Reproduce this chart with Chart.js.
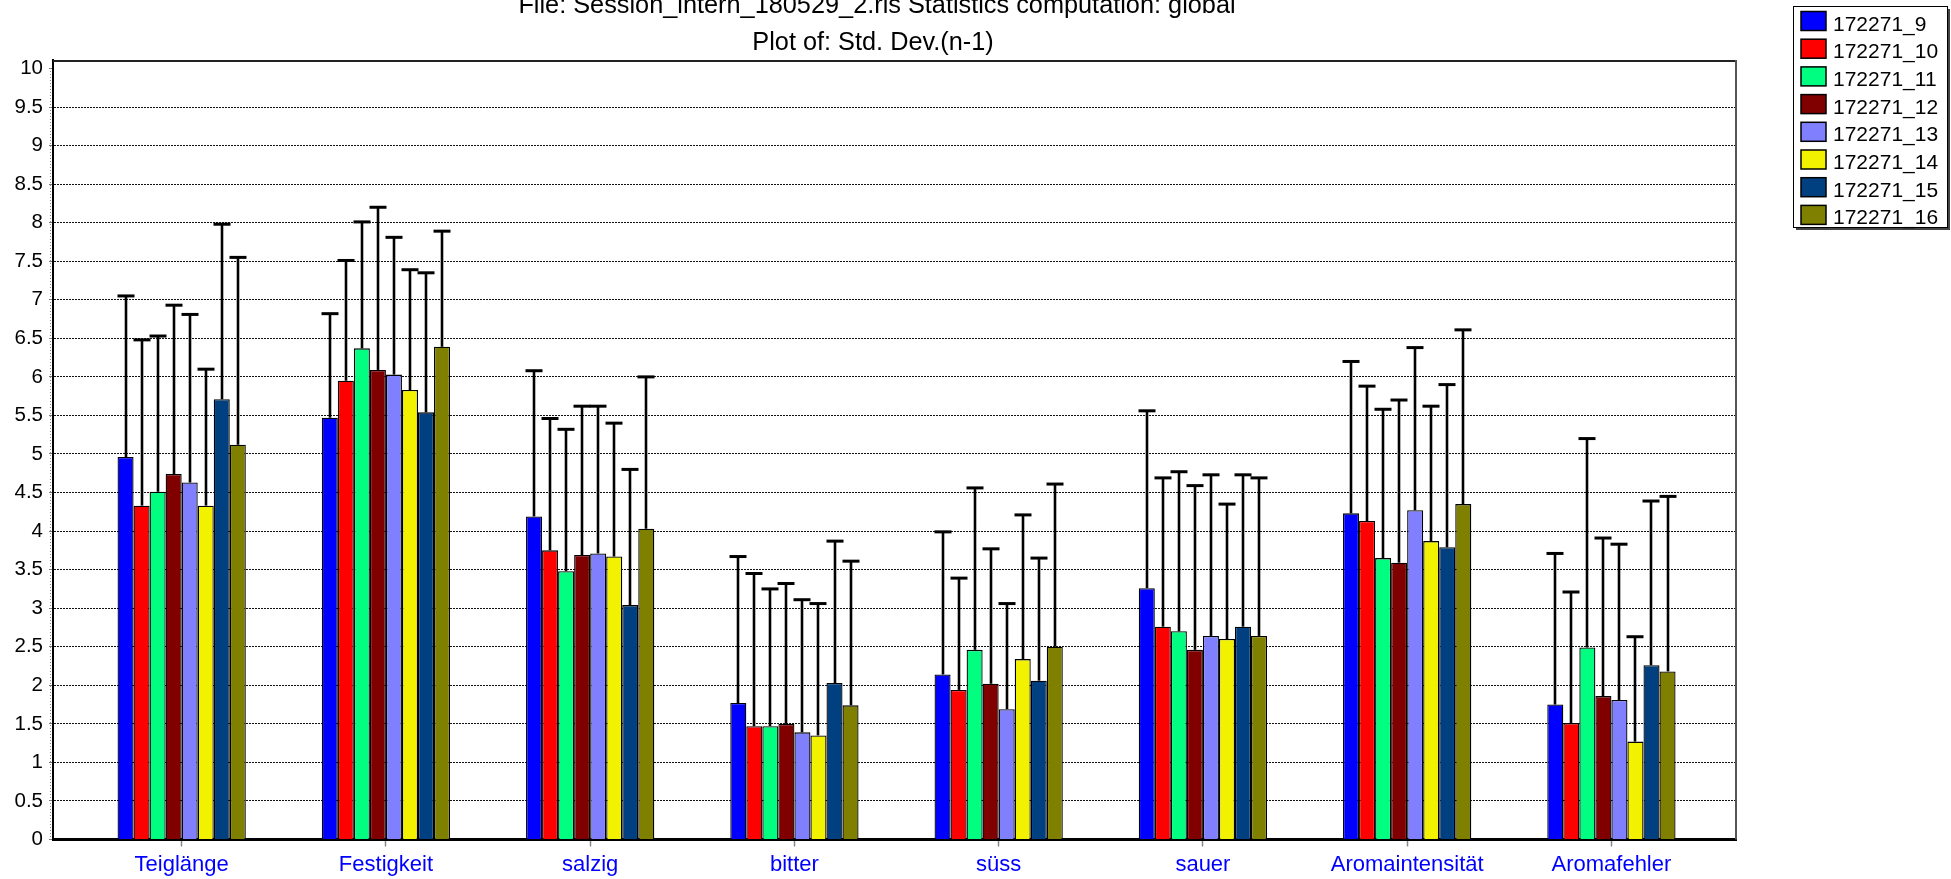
<!DOCTYPE html>
<html>
<head>
<meta charset="utf-8">
<script src="https://cdn.jsdelivr.net/npm/chart.js@4/dist/chart.umd.min.js"></script>
<style>
  html, body { margin: 0; padding: 0; background: #ffffff; overflow: hidden; }
  canvas { display: block; }
</style>
</head>
<body>
<canvas id="chart" width="1951" height="879"></canvas>
<script>
// Attributes on the x axis
const categories = ['Teiglänge', 'Festigkeit', 'salzig', 'bitter', 'süss', 'sauer', 'Aromaintensität', 'Aromafehler'];

// Products (one series each)
const seriesNames = ['172271_9', '172271_10', '172271_11', '172271_12', '172271_13', '172271_14', '172271_15', '172271_16'];

// Std. Dev. (n-1) per product, in attribute order
const sd9  = [4.96, 5.47, 4.19, 1.77, 2.14, 3.26, 4.23, 1.75];
const sd10 = [4.33, 5.95, 3.75, 1.47, 1.94, 2.76, 4.13, 1.51];
const sd11 = [4.51, 6.37, 3.48, 1.47, 2.46, 2.70, 3.65, 2.49];
const sd12 = [4.74, 6.09, 3.69, 1.50, 2.02, 2.46, 3.59, 1.86];
const sd13 = [4.63, 6.03, 3.71, 1.39, 1.69, 2.64, 4.27, 1.81];
const sd14 = [4.33, 5.83, 3.67, 1.35, 2.34, 2.60, 3.87, 1.27];
const sd15 = [5.71, 5.54, 3.04, 2.03, 2.06, 2.76, 3.79, 2.26];
const sd16 = [5.12, 6.39, 4.03, 1.74, 2.50, 2.64, 4.35, 2.18];

// Upper ends of the error whiskers
const hi9  = [7.05, 6.82, 6.08, 3.67, 3.99, 5.56, 6.20, 3.71];
const hi10 = [6.48, 7.51, 5.46, 3.45, 3.39, 4.69, 5.88, 3.21];
const hi11 = [6.53, 8.01, 5.32, 3.25, 4.56, 4.77, 5.58, 5.20];
const hi12 = [6.93, 8.20, 5.62, 3.32, 3.77, 4.59, 5.70, 3.91];
const hi13 = [6.81, 7.81, 5.62, 3.11, 3.06, 4.73, 6.38, 3.83];
const hi14 = [6.10, 7.39, 5.40, 3.06, 4.21, 4.35, 5.62, 2.63];
const hi15 = [7.98, 7.35, 4.80, 3.87, 3.65, 4.73, 5.90, 4.39];
const hi16 = [7.55, 7.89, 6.00, 3.61, 4.61, 4.69, 6.61, 4.45];

// Value axis ticks
const yTicks = [0, 0.5, 1, 1.5, 2, 2.5, 3, 3.5, 4, 4.5, 5, 5.5, 6, 6.5, 7, 7.5, 8, 8.5, 9, 9.5, 10];

const titleLines = [
  'File: Session_intern_180529_2.ris Statistics computation: global',
  'Plot of: Std. Dev.(n-1)'
];

const seriesValues = [sd9, sd10, sd11, sd12, sd13, sd14, sd15, sd16];
const seriesWhiskers = [hi9, hi10, hi11, hi12, hi13, hi14, hi15, hi16];
const seriesColors = ['#0000ff', '#ff0000', '#00ff80', '#800000', '#8080ff', '#f2f200', '#004080', '#808000'];

const FONT = '"Liberation Sans", Arial, Helvetica, sans-serif';
Chart.defaults.font.family = FONT;
Chart.defaults.color = '#000';

// Whiskers: stem from the bar top up to the upper value, with a cap
const errorBars = {
  id: 'errorBars',
  afterDatasetsDraw(chart) {
    const ctx = chart.ctx;
    const yScale = chart.scales.y;
    ctx.save();
    ctx.strokeStyle = '#000';
    chart.data.datasets.forEach((ds, i) => {
      const meta = chart.getDatasetMeta(i);
      const tops = seriesWhiskers[i];
      meta.data.forEach((bar, j) => {
        const x = Math.round(bar.x);
        const yTop = yScale.getPixelForValue(tops[j]);
        ctx.lineWidth = 2.6;
        ctx.beginPath();
        ctx.moveTo(x, bar.y);
        ctx.lineTo(x, yTop);
        ctx.stroke();
        ctx.lineWidth = 3;
        ctx.beginPath();
        ctx.moveTo(x - 8.5, yTop);
        ctx.lineTo(x + 8.5, yTop);
        ctx.stroke();
      });
    });
    ctx.restore();
  }
};

// Top and right edges of the plot frame
const plotFrame = {
  id: 'plotFrame',
  afterDraw(chart) {
    const {ctx, chartArea: a} = chart;
    ctx.save();
    ctx.lineWidth = 2;
    ctx.strokeStyle = '#222';
    ctx.beginPath();
    ctx.moveTo(a.left, a.top + 1);
    ctx.lineTo(a.right, a.top + 1);
    ctx.stroke();
    ctx.strokeStyle = '#555';
    ctx.beginPath();
    ctx.moveTo(a.right, a.top);
    ctx.lineTo(a.right, a.bottom);
    ctx.stroke();
    // dotted minor marks along the value axis
    ctx.lineWidth = 1;
    ctx.strokeStyle = '#888';
    ctx.setLineDash([1, 2]);
    ctx.beginPath();
    ctx.moveTo(a.left - 2.5, a.top + 8);
    ctx.lineTo(a.left - 2.5, a.bottom);
    ctx.stroke();
    ctx.restore();
  }
};

// Two-line heading
const heading = {
  id: 'heading',
  afterDraw(chart) {
    const ctx = chart.ctx;
    ctx.save();
    ctx.fillStyle = '#000';
    ctx.font = '25.3px ' + FONT;
    ctx.textAlign = 'center';
    ctx.textBaseline = 'alphabetic';
    ctx.fillText(titleLines[0], 877, 12.5);
    ctx.fillText(titleLines[1], 873, 49.5);
    ctx.restore();
  }
};

// Boxed legend with drop shadow, top right
const legendBox = {
  id: 'legendBox',
  afterDraw(chart) {
    const ctx = chart.ctx;
    const x0 = 1793, y0 = 6, w = 154, h = 221;
    ctx.save();
    ctx.fillStyle = '#444';
    ctx.fillRect(x0 + 3, y0 + 3, w, h);
    ctx.fillStyle = '#fff';
    ctx.fillRect(x0, y0, w, h);
    ctx.strokeStyle = '#000';
    ctx.lineWidth = 1;
    ctx.strokeRect(x0 + 0.5, y0 + 0.5, w, h);
    ctx.font = '21px ' + FONT;
    ctx.textAlign = 'left';
    ctx.textBaseline = 'alphabetic';
    chart.data.datasets.forEach((ds, i) => {
      const sy = 11.5 + i * 27.7;
      ctx.fillStyle = ds.backgroundColor;
      ctx.fillRect(1801, sy, 25, 19);
      ctx.lineWidth = 1.5;
      ctx.strokeStyle = '#000';
      ctx.strokeRect(1801, sy, 25, 19);
      ctx.fillStyle = '#000';
      ctx.fillText(ds.label, 1833, sy + 19);
    });
    ctx.restore();
  }
};

const datasets = seriesNames.map((name, i) => ({
  label: name,
  data: seriesValues[i].map((v, j) => ({x: j, y: v})),
  backgroundColor: seriesColors[i],
  borderColor: '#000',
  borderWidth: 1.3,
  categoryPercentage: 0.628,
  barPercentage: 1
}));

new Chart(document.getElementById('chart'), {
  type: 'bar',
  data: { datasets },
  options: {
    responsive: false,
    animation: false,
    devicePixelRatio: 1,
    layout: { padding: { top: 60, right: 215, left: 0, bottom: 0 } },
    plugins: {
      legend: { display: false },
      title: { display: false },
      tooltip: { enabled: false }
    },
    scales: {
      x: {
        type: 'linear',
        offset: false,
        min: -0.63,
        max: 7.61,
        afterBuildTicks: s => { s.ticks = categories.map((_, i) => ({value: i})); },
        afterFit: s => { s.height = 39.5; },
        ticks: {
          autoSkip: false,
          maxRotation: 0,
          color: '#0000ff',
          font: { size: 22 },
          padding: 5,
          callback: v => categories[v]
        },
        grid: {
          offset: false,
          drawOnChartArea: false,
          drawTicks: true,
          tickLength: 7,
          tickColor: '#888',
          tickWidth: 1.5
        },
        border: { color: '#000', width: 3 }
      },
      y: {
        min: 0,
        max: 10.11,
        afterBuildTicks: s => { s.ticks = yTicks.map(v => ({value: v})); },
        afterFit: s => { s.width = 53; },
        ticks: {
          color: '#000',
          font: { size: 20.5 },
          padding: 6,
          callback: v => String(v)
        },
        grid: {
          color: c => (c.tick && (c.tick.value === 0 || c.tick.value === 10)) ? 'rgba(0,0,0,0)' : '#111',
          lineWidth: 1,
          tickLength: 4,
          tickColor: '#777',
          tickWidth: 1
        },
        border: { color: '#000', width: 2, dash: [2, 1] }
      }
    }
  },
  plugins: [errorBars, plotFrame, heading, legendBox]
});
</script>
</body>
</html>
